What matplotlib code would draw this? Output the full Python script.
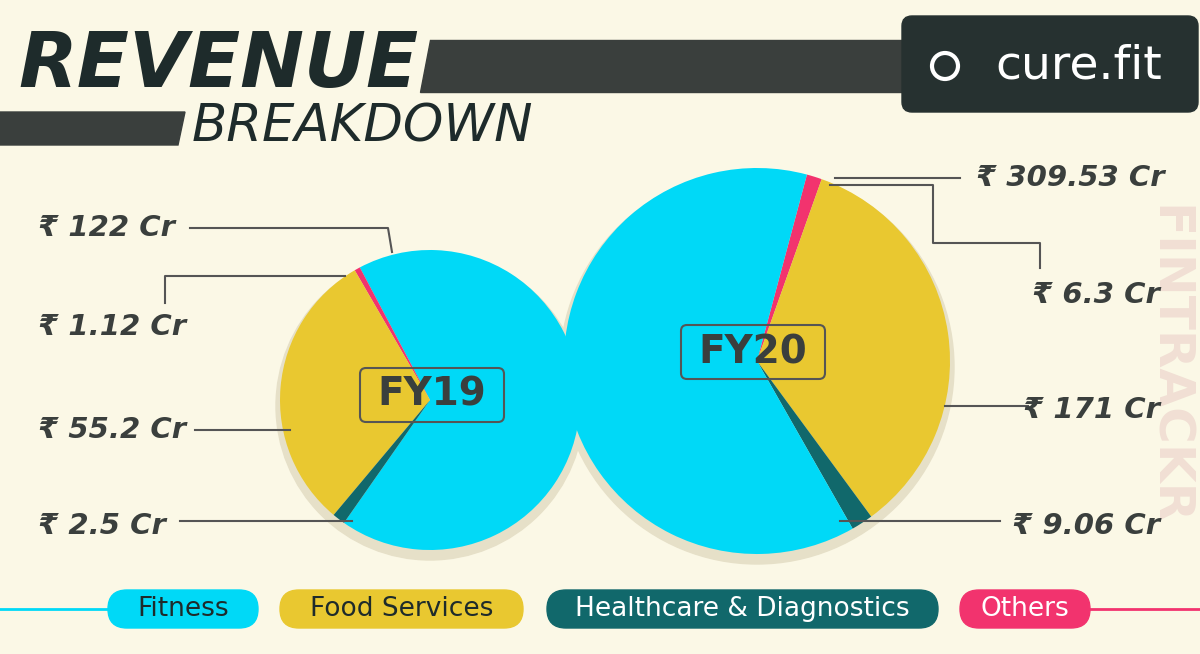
import matplotlib
matplotlib.use("Agg")
import matplotlib.pyplot as plt
from matplotlib.patches import FancyBboxPatch, Rectangle, Polygon, Circle

categories = ["Fitness", "Food Services", "Healthcare & Diagnostics", "Others"]
fy19 = [122, 55.2, 2.5, 1.12]
fy20 = [309.53, 171, 9.06, 6.3]
fy19_labels = ["₹ 122 Cr", "₹ 55.2 Cr", "₹ 2.5 Cr", "₹ 1.12 Cr"]
fy20_labels = ["₹ 309.53 Cr", "₹ 171 Cr", "₹ 9.06 Cr", "₹ 6.3 Cr"]
colors = ["#00D9F7", "#E9C830", "#11686B", "#F2336E"]
dark = "#1E2B2B"
bg = "#FBF8E6"

W, H = 1200, 654
fig = plt.figure(figsize=(12, 6.54), dpi=100, facecolor=bg)
ax = fig.add_axes([0, 0, 1, 1])
ax.set_facecolor(bg)
def Y(y): return H - y

# title
ax.add_patch(Polygon([(430, Y(40)), (905, Y(40)), (905, Y(92)), (420, Y(92))], color="#3A3F3D", zorder=1))
ax.add_patch(Polygon([(0, Y(112)), (185, Y(112)), (178, Y(145)), (0, Y(145))], color="#3A3F3D", zorder=1))
ax.text(18, Y(66), "REVENUE", fontsize=55, fontweight="bold", style="italic", color=dark, va="center", ha="left", zorder=3)
ax.text(192, Y(127), "BREAKDOWN", fontsize=37, style="italic", color=dark, va="center", ha="left", zorder=3)
# logo
ax.add_patch(FancyBboxPatch((902, Y(112)), 296, 96, boxstyle="round,pad=0,rounding_size=10", color="#263130", zorder=2))
ax.text(995, Y(66), "cure.fit", fontsize=34, color="white", va="center", ha="left", zorder=3)
ax.add_patch(Circle((945, Y(66)), 13, fill=False, ec="white", lw=3, zorder=3))
# watermark
ax.text(1168, Y(365), "FINTRACKR", fontsize=36, fontweight="bold", color="#F1DFD4", rotation=-90, va="center", ha="center", zorder=0)

# pies
c19, r19 = (430, 400), 150
c20, r20 = (757, 361), 193
ax.add_patch(Circle((c19[0], Y(c19[1] + 6)), r19 + 4, color="#E6E0C8", zorder=1))
ax.add_patch(Circle((c20[0], Y(c20[1] + 6)), r20 + 4, color="#E6E0C8", zorder=1))
w19 = [fy19[0], fy19[3], fy19[1], fy19[2]]
col19 = [colors[0], colors[3], colors[1], colors[2]]
ax.pie(w19, colors=col19, center=(c19[0], Y(c19[1])), radius=r19, startangle=-125,
       counterclock=True, frame=True, wedgeprops=dict(zorder=2, lw=0))
w20 = [fy20[3], fy20[1], fy20[2], fy20[0]]
col20 = [colors[3], colors[1], colors[2], colors[0]]
ax.pie(w20, colors=col20, center=(c20[0], Y(c20[1])), radius=r20, startangle=75,
       counterclock=False, frame=True, wedgeprops=dict(zorder=3, lw=0))
for (x, y, t) in [(432, 395, "FY19"), (753, 352, "FY20")]:
    ax.add_patch(FancyBboxPatch((x - 72, Y(y + 27)), 144, 54, boxstyle="round,pad=0,rounding_size=6",
                                fc="none", ec="#555555", lw=1.5, zorder=5))
    ax.text(x, Y(y), t, fontsize=28, fontweight="bold", color="#3A3F3D", ha="center", va="center", zorder=6)

lc = "#555555"
def lbl(x, y, t, ha="left"):
    ax.text(x, Y(y), t, fontsize=21, fontweight="bold", style="italic", color="#3A3F3D", ha=ha, va="center", zorder=6)
def line(pts):
    ax.plot([p[0] for p in pts], [Y(p[1]) for p in pts], color=lc, lw=1.5, zorder=4)
lbl(38, 228, fy19_labels[0]); line([(190, 228), (388, 228), (392, 252)])
lbl(38, 327, fy19_labels[3]); line([(165, 303), (165, 276), (345, 276)])
lbl(38, 430, fy19_labels[1]); line([(195, 430), (290, 430)])
lbl(38, 526, fy19_labels[2]); line([(180, 521), (352, 521)])
lbl(1165, 178, fy20_labels[0], "right"); line([(835, 178), (960, 178)])
lbl(1160, 295, fy20_labels[3], "right"); line([(830, 185), (933, 185), (933, 243), (1040, 243), (1040, 268)])
lbl(1160, 410, fy20_labels[1], "right"); line([(945, 406), (1028, 406)])
lbl(1160, 526, fy20_labels[2], "right"); line([(840, 521), (1000, 521)])

# legend
ax.plot([0, 130], [Y(609)] * 2, color=colors[0], lw=2, zorder=1)
ax.plot([1070, 1200], [Y(609)] * 2, color=colors[3], lw=2, zorder=1)
for (x0, x1, t, c, tc) in [(108, 258, categories[0], colors[0], dark), (280, 523, categories[1], colors[1], dark),
                           (547, 938, categories[2], colors[2], "white"), (960, 1090, categories[3], colors[3], "white")]:
    ax.add_patch(FancyBboxPatch((x0, Y(628)), x1 - x0, 38, boxstyle="round,pad=0,rounding_size=19", color=c, zorder=2))
    ax.text((x0 + x1) / 2, Y(609), t, fontsize=19, color=tc, ha="center", va="center", zorder=3)

ax.set_xlim(0, W); ax.set_ylim(0, H)
ax.set_aspect("auto")
ax.axis("off")
fig.savefig("out.png", dpi=100, facecolor=bg)
